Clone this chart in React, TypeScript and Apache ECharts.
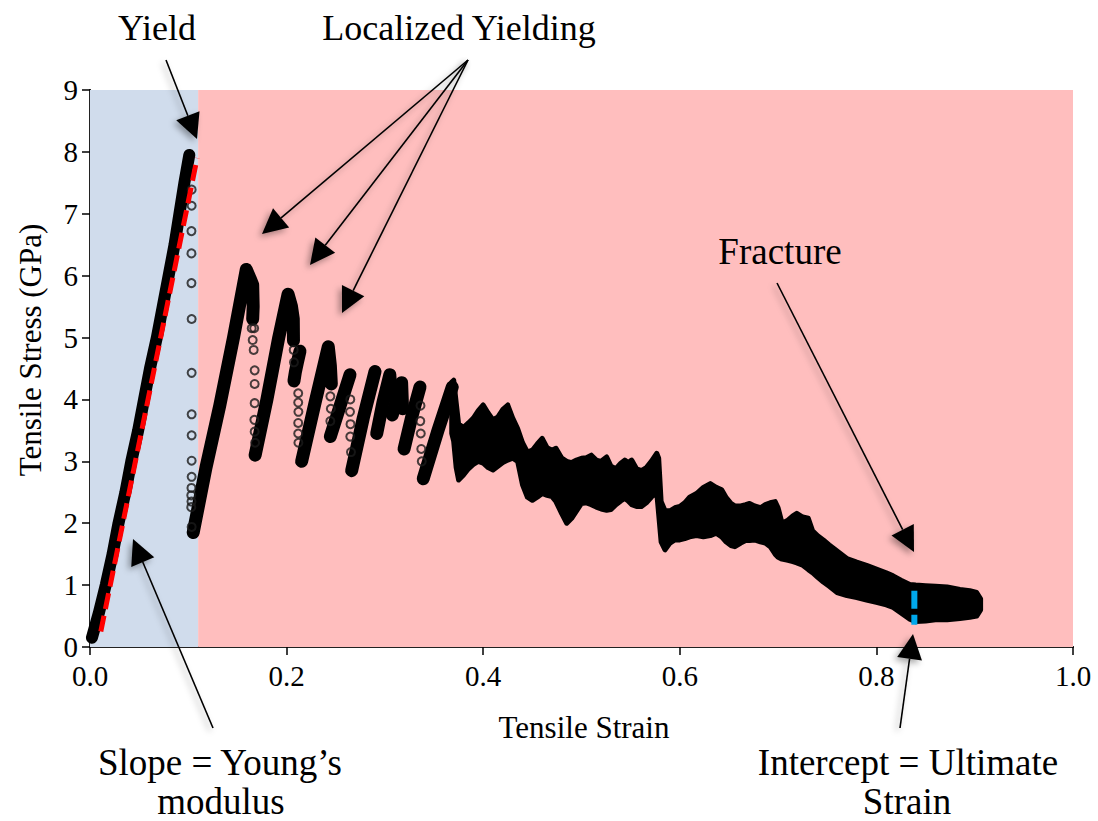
import React, { useEffect, useRef } from "react";
import * as echarts from "echarts";

// ---- axis ticks ----
const xTickValues = [0, 0.2, 0.4, 0.6, 0.8, 1.0];
const yTickValues = [0, 1, 2, 3, 4, 5, 6, 7, 8, 9];

// ---- shaded regions (strain ranges) ----
const elasticRegion = [0, 0.11];
const plasticRegion = [0.11, 1.0];

// ---- dense (continuous) stress-strain branches: [strain, stress GPa] ----
const elasticBranch = [
  [0.002, 0.15], [0.009, 0.55], [0.016, 1.0], [0.023, 1.5], [0.029, 2.0], [0.036, 2.5],
  [0.042, 3.0], [0.049, 3.5], [0.055, 4.0], [0.061, 4.5], [0.068, 5.0], [0.074, 5.5],
  [0.080, 6.0], [0.086, 6.5], [0.091, 7.0], [0.096, 7.5], [0.101, 7.95],
];
const reloadA = [
  [0.105, 1.85], [0.118, 2.9], [0.132, 3.9], [0.146, 5.0], [0.159, 6.1],
  [0.163, 5.95], [0.1655, 5.85], [0.166, 5.5], [0.1655, 5.3],
];
const reloadB = [
  [0.168, 3.1], [0.180, 4.0], [0.192, 5.0], [0.2015, 5.7], [0.205, 5.5],
  [0.2068, 5.3], [0.207, 4.95],
];
const reloadB2 = [[0.2075, 4.3], [0.209, 4.45], [0.211, 4.6], [0.2136, 4.78]];
const reloadC = [[0.2153, 3.0], [0.229, 3.95], [0.2424, 4.85], [0.2445, 4.55], [0.2455, 4.25]];
const reloadD = [[0.2445, 3.4], [0.2545, 3.9], [0.2645, 4.4]];
const reloadE = [[0.2662, 2.85], [0.278, 3.7], [0.2899, 4.45]];
const reloadE2 = [[0.2917, 3.45], [0.298, 3.95], [0.305, 4.4], [0.3065, 4.05]];
const reloadE3 = [[0.3075, 3.75], [0.312, 4.0], [0.317, 4.27], [0.318, 3.85]];
const reloadE4 = [[0.3195, 3.2], [0.327, 3.7], [0.3357, 4.2]];
const reloadF = [[0.339, 2.72], [0.354, 3.5], [0.3685, 4.2]];

// ---- envelope of the merged serrated band: [strain, upper stress, lower stress] ----
const bandEnvelope = [
  [0.368, 4.28, 3.45], [0.370, 4.31, 3.32], [0.3725, 3.95, 2.9], [0.375, 3.60, 2.70], [0.380, 3.55, 2.78],
  [0.385, 3.62, 2.88], [0.390, 3.70, 2.95], [0.395, 3.82, 3.0], [0.400, 3.91, 2.97], [0.405, 3.78, 2.9],
  [0.410, 3.67, 2.86], [0.415, 3.72, 2.92], [0.420, 3.84, 2.98], [0.425, 3.91, 3.02], [0.430, 3.70, 3.05],
  [0.435, 3.53, 3.0], [0.440, 3.30, 2.62], [0.445, 3.15, 2.42], [0.450, 3.18, 2.37], [0.455, 3.28, 2.42],
  [0.460, 3.37, 2.48], [0.465, 3.22, 2.45], [0.470, 3.18, 2.43], [0.474, 3.21, 2.35], [0.480, 3.05, 2.15],
  [0.485, 3.0, 2.0], [0.490, 2.98, 2.08], [0.495, 3.02, 2.2], [0.500, 3.05, 2.32], [0.505, 3.06, 2.33],
  [0.510, 3.10, 2.3], [0.515, 3.02, 2.26], [0.520, 3.0, 2.23], [0.5256, 3.07, 2.21], [0.530, 2.92, 2.22],
  [0.535, 2.88, 2.3], [0.540, 2.97, 2.36], [0.544, 3.02, 2.40], [0.5475, 2.98, 2.36], [0.551, 3.02, 2.3],
  [0.556, 2.88, 2.27], [0.561, 2.85, 2.27], [0.566, 2.9, 2.33], [0.571, 3.0, 2.42], [0.5765, 3.13, 2.5],
  [0.5785, 3.05, 2.15], [0.581, 2.35, 1.7], [0.585, 2.2, 1.57], [0.590, 2.2, 1.68], [0.595, 2.25, 1.73],
  [0.600, 2.27, 1.73], [0.605, 2.33, 1.75], [0.610, 2.42, 1.78], [0.617, 2.48, 1.8], [0.624, 2.58, 1.78],
  [0.631, 2.64, 1.8], [0.637, 2.58, 1.84], [0.6426, 2.54, 1.78], [0.647, 2.42, 1.7], [0.652, 2.32, 1.64],
  [0.656, 2.28, 1.62], [0.662, 2.28, 1.68], [0.667, 2.3, 1.72], [0.671, 2.32, 1.72], [0.676, 2.28, 1.73],
  [0.682, 2.25, 1.7], [0.687, 2.3, 1.68], [0.692, 2.33, 1.62], [0.697, 2.35, 1.5], [0.700, 2.25, 1.45],
  [0.704, 2.0, 1.42], [0.710, 2.05, 1.4], [0.715, 2.12, 1.38], [0.719, 2.16, 1.36], [0.725, 2.1, 1.32],
  [0.7307, 2.08, 1.25], [0.735, 1.88, 1.2], [0.740, 1.80, 1.13], [0.746, 1.73, 1.05], [0.752, 1.65, 0.98],
  [0.760, 1.55, 0.88], [0.770, 1.43, 0.83], [0.780, 1.37, 0.80], [0.790, 1.32, 0.76], [0.800, 1.26, 0.72],
  [0.810, 1.20, 0.68], [0.817, 1.15, 0.64], [0.825, 1.08, 0.55], [0.834, 1.01, 0.45], [0.840, 1.0, 0.41],
  [0.850, 0.99, 0.42], [0.860, 0.98, 0.44], [0.872, 0.97, 0.44], [0.885, 0.93, 0.46], [0.895, 0.91, 0.48],
  [0.902, 0.88, 0.50], [0.906, 0.78, 0.60],
];

// ---- sparse points during stress drops ----
const yieldDrop = [
  [0.1034, 7.39], [0.1034, 7.13], [0.1032, 6.72], [0.1032, 6.36], [0.1032, 5.88], [0.1034, 5.30],
  [0.1034, 4.43], [0.1034, 3.76], [0.1034, 3.42], [0.1034, 3.01], [0.1034, 2.75], [0.1032, 2.57],
  [0.1030, 2.45], [0.1032, 2.35], [0.1030, 2.26], [0.1034, 1.94],
];
const minorDrops = [
  [0.1645, 5.15], [0.167, 5.15], [0.1655, 4.96], [0.1665, 4.80], [0.1675, 4.47], [0.1675, 4.25],
  [0.1675, 3.94], [0.1672, 3.67], [0.1675, 3.48], [0.168, 3.3],
  [0.2072, 4.8], [0.2075, 4.6],
  [0.2118, 4.1], [0.2118, 3.95], [0.212, 3.8], [0.2118, 3.62], [0.2118, 3.45], [0.212, 3.3],
  [0.2445, 4.05], [0.245, 3.85], [0.2445, 3.65],
  [0.2648, 4.0], [0.2645, 3.8], [0.265, 3.6], [0.2648, 3.4], [0.2655, 3.15],
  [0.3362, 3.9], [0.336, 3.65], [0.3365, 3.45], [0.337, 3.2], [0.3375, 3.0],
];

// ---- fitted lines ----
const slopeFit = [[0.011, 0.25], [0.109, 7.9]];
const ultimateStrainMark = [[0.8386, 0.91], [0.8386, 0.36]];

const loadingBranches = [reloadA, reloadB, reloadB2, reloadC, reloadD, reloadE, reloadE2, reloadE3, reloadE4, reloadF];
const sparseSets = [yieldDrop, minorDrops];

const FONT = "'Liberation Serif', 'Times New Roman', serif";

function arrow(x1: number, y1: number, x2: number, y2: number, L = 25, Wd = 12.5) {
  const dx = x2 - x1, dy = y2 - y1;
  const len = Math.hypot(dx, dy);
  const ux = dx / len, uy = dy / len;
  const bx = x2 - ux * L, by = y2 - uy * L;
  const px = -uy, py = ux;
  const shadow = { shadowBlur: 6, shadowColor: "rgba(0,0,0,0.35)", shadowOffsetX: -3, shadowOffsetY: 3 };
  return [
    { type: "line", z: 100, shape: { x1, y1, x2: bx, y2: by }, style: { stroke: "#000", lineWidth: 1.6, ...shadow } },
    {
      type: "polygon", z: 100,
      shape: { points: [[x2, y2], [bx + px * Wd, by + py * Wd], [bx - px * Wd, by - py * Wd]] },
      style: { fill: "#000", ...shadow },
    },
  ];
}

function label(text: string, x: number, y: number, size = 37) {
  return {
    type: "text", z: 100, x, y,
    style: { text, fill: "#000", font: `${size}px ${FONT}`, textAlign: "center", textVerticalAlign: "middle" },
  };
}

export default function App() {
  const ref = useRef<HTMLDivElement>(null);
  useEffect(() => {
    if (!ref.current) return;
    const chart = echarts.init(ref.current, undefined, { renderer: "svg" });
    const tickFont = { fontFamily: FONT, fontSize: 29, color: "#000" };
    const series: any[] = [
      {
        type: "line", data: [], z: 0, silent: true,
        markArea: {
          silent: true,
          data: [
            [{ xAxis: elasticRegion[0], itemStyle: { color: "#D0DCEC" } }, { xAxis: elasticRegion[1] }],
            [{ xAxis: plasticRegion[0], itemStyle: { color: "#FFBEBE" } }, { xAxis: plasticRegion[1] }],
          ],
        },
      },
      {
        type: "line", data: elasticBranch, z: 3, symbol: "none",
        lineStyle: { color: "#000", width: 12, cap: "round", join: "round" },
      },
    ];
    loadingBranches.forEach((d) => {
      series.push({
        type: "line", data: d, z: 3, symbol: "none", smooth: false,
        lineStyle: { color: "#000", width: 13, cap: "round", join: "round" },
      });
    });
    series.push({
      type: "custom", z: 3, data: [[0.6, 2]],
      renderItem: (_p: any, api: any) => {
        const upper = bandEnvelope.map((d) => api.coord([d[0], d[1]]));
        const lower = bandEnvelope.slice().reverse().map((d) => api.coord([d[0], d[2]]));
        return {
          type: "polygon",
          shape: { points: upper.concat(lower) },
          style: { fill: "#000", stroke: "#000", lineWidth: 5, lineJoin: "round" },
        };
      },
    });
    sparseSets.forEach((d) => {
      series.push({
        type: "scatter", data: d, z: 3, symbol: "circle", symbolSize: 8,
        itemStyle: { color: "rgba(255,255,255,0)", borderColor: "#1a1a1a", borderWidth: 2 },
      });
    });
    series.push({
      type: "line", data: slopeFit, z: 5, symbol: "none",
      lineStyle: { color: "#FF0000", width: 5, type: [16, 7] },
    });
    series.push({
      type: "line", data: ultimateStrainMark, z: 5, symbol: "none",
      lineStyle: { color: "#00A8EC", width: 6, type: [18, 6] },
    });

    const graphic: any[] = [
      label("Yield", 157, 28, 36),
      label("Localized Yielding", 459, 28, 36),
      label("Fracture", 780, 251),
      label("Slope = Young\u2019s", 220, 762),
      label("modulus", 221, 801),
      label("Intercept = Ultimate", 908, 762),
      label("Strain", 907, 801),
      {
        type: "text", z: 100, x: 30, y: 350, rotation: Math.PI / 2,
        style: { text: "Tensile Stress (GPa)", fill: "#000", font: `31px ${FONT}`, textAlign: "center", textVerticalAlign: "middle" },
      },
      {
        type: "text", z: 100, x: 584, y: 727,
        style: { text: "Tensile Strain", fill: "#000", font: `31px ${FONT}`, textAlign: "center", textVerticalAlign: "middle" },
      },
      ...arrow(166, 60, 197, 139),
      ...arrow(468, 60, 262, 234),
      ...arrow(468, 60, 310, 265),
      ...arrow(468, 60, 342, 313),
      ...arrow(777, 283, 914, 552),
      ...arrow(213, 728, 133, 539),
      ...arrow(900, 728, 913, 634),
    ];

    chart.setOption({
      animation: false,
      backgroundColor: "#fff",
      grid: { left: 90, right: 25, top: 90, bottom: 174, containLabel: false },
      xAxis: [
        {
          type: "value", min: xTickValues[0], max: xTickValues[xTickValues.length - 1], interval: 0.2,
          axisLine: { show: true, onZero: false, lineStyle: { color: "#000", width: 2 } },
          axisTick: { show: true, inside: false, length: 8, lineStyle: { color: "#000", width: 1.5 } },
          axisLabel: { ...tickFont, margin: 14, formatter: (v: number) => v.toFixed(1) },
          splitLine: { show: false },
        },
        {
          type: "value", position: "top", min: 0, max: 1,
          axisLine: { show: true, lineStyle: { color: "#222", width: 2 } },
          axisTick: { show: false }, axisLabel: { show: false }, splitLine: { show: false },
        },
      ],
      yAxis: [
        {
          type: "value", min: yTickValues[0], max: yTickValues[yTickValues.length - 1], interval: 1,
          axisLine: { show: true, onZero: false, lineStyle: { color: "#000", width: 2 } },
          axisTick: { show: true, inside: false, length: 8, lineStyle: { color: "#000", width: 1.5 } },
          axisLabel: { ...tickFont, margin: 12, formatter: (v: number) => String(v) },
          splitLine: { show: false },
        },
        {
          type: "value", position: "right", min: 0, max: 9,
          axisLine: { show: true, lineStyle: { color: "#222", width: 2 } },
          axisTick: { show: false }, axisLabel: { show: false }, splitLine: { show: false },
        },
      ],
      series,
      graphic,
    });
    return () => chart.dispose();
  }, []);
  return <div ref={ref} style={{ position: "absolute", left: 0, top: 0, width: 1098, height: 821 }} />;
}
